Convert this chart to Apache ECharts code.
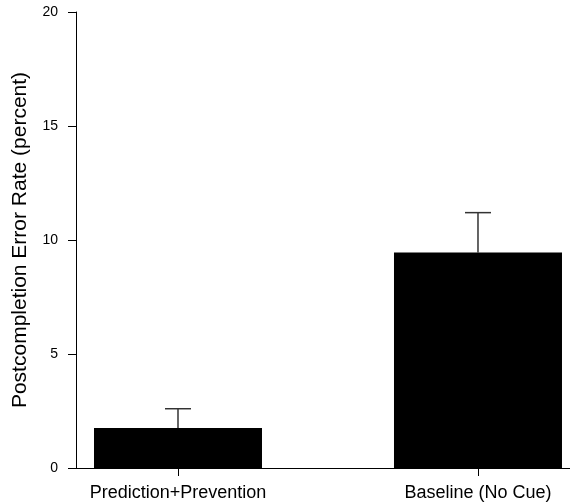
<!DOCTYPE html>
<html>
<head>
<meta charset="utf-8">
<script src="https://cdn.jsdelivr.net/npm/echarts@6/dist/echarts.min.js"></script>
<style>html,body{margin:0;padding:0;background:#fff}#c{width:570px;height:503px}</style>
</head>
<body>
<div id="c"></div>
<script>
const categories = ['Prediction+Prevention', 'Baseline (No Cue)'];
const catPositions = [1, 2];
const means = [1.75, 9.45];
const upperErr = [2.6, 11.2];
const yTicks = [0, 5, 10, 15, 20];

const chart = echarts.init(document.getElementById('c'));
const barData = catPositions.map((p, i) => [p, means[i]]);
const errData = catPositions.map((p, i) => [p, means[i], upperErr[i]]);
const FONT = 'Liberation Sans, Arial, sans-serif';

chart.setOption({
  animation: false,
  grid: { left: 76, right: 0, top: 12, bottom: 35, containLabel: false },
  xAxis: {
    type: 'value', min: 0.66, max: 2.3067,
    splitLine: { show: false },
    axisLine: { show: true, lineStyle: { color: '#000', width: 1 } },
    axisTick: { show: true, length: 8, customValues: catPositions, lineStyle: { color: '#000' } },
    axisLabel: {
      customValues: catPositions,
      formatter: v => categories[catPositions.indexOf(Math.round(v))] || '',
      color: '#000', fontFamily: FONT, fontSize: 18, margin: 16
    }
  },
  yAxis: {
    type: 'value', min: yTicks[0], max: yTicks[yTicks.length - 1], interval: 5,
    name: 'Postcompletion Error Rate (percent)',
    nameLocation: 'middle', nameGap: 45,
    nameTextStyle: { color: '#000', fontFamily: FONT, fontSize: 21 },
    splitLine: { show: false },
    axisLine: { show: true, lineStyle: { color: '#000', width: 1 } },
    axisTick: { show: true, length: 8, lineStyle: { color: '#000' } },
    axisLabel: { color: '#000', fontFamily: FONT, fontSize: 14, margin: 18 }
  },
  series: [
    {
      type: 'bar', data: barData, barWidth: 168,
      itemStyle: { color: '#000' }, z: 2
    },
    {
      type: 'custom', data: errData, z: 1,
      renderItem: (params, api) => {
        const x = api.value(0);
        const p0 = api.coord([x, api.value(1)]);
        const p1 = api.coord([x, api.value(2)]);
        const hw = 13;
        return {
          type: 'group',
          children: [
            { type: 'line', shape: { x1: p0[0], y1: p0[1], x2: p1[0], y2: p1[1] }, style: { stroke: '#333', lineWidth: 1.5 } },
            { type: 'line', shape: { x1: p1[0] - hw, y1: p1[1], x2: p1[0] + hw, y2: p1[1] }, style: { stroke: '#333', lineWidth: 1.5 } }
          ]
        };
      }
    }
  ]
});
</script>
</body>
</html>
